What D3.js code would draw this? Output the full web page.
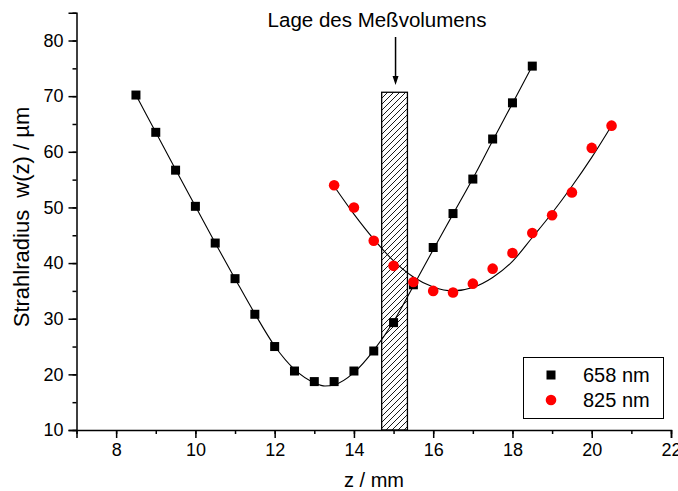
<!DOCTYPE html>
<html>
<head>
<meta charset="utf-8">
<script src="https://cdn.jsdelivr.net/npm/d3@7"></script>
<style>
  body { margin: 0; background: #fff; }
  text { font-family: "Liberation Sans", Arial, sans-serif; fill: #000; }
</style>
</head>
<body>
<div id="container"></div>
<script>
// measured points
const z658 = [8.5, 9, 9.5, 10, 10.5, 11, 11.5, 12, 12.5, 13, 13.5, 14, 14.5, 15, 15.5, 16, 16.5, 17, 17.5, 18, 18.5];
const w658 = [70.2, 63.5, 56.7, 50.2, 43.6, 37.2, 30.8, 25.0, 20.6, 18.7, 18.7, 20.6, 24.2, 29.3, 36.1, 42.8, 48.9, 55.1, 62.3, 68.8, 75.4];
const z825 = [13.5, 14, 14.5, 15, 15.5, 16, 16.5, 17, 17.5, 18, 18.5, 19, 19.5, 20, 20.5];
const w825 = [54.0, 50.0, 44.0, 39.5, 36.6, 35.0, 34.7, 36.3, 39.0, 41.8, 45.4, 48.6, 52.7, 60.7, 64.7];

// fit curves
const fitZ658 = [8.5, 9, 9.5, 10, 10.5, 11, 11.5, 12, 12.5, 13, 13.27, 13.5, 14, 14.5, 15, 15.5, 16, 16.5, 17, 17.5, 18, 18.5];
const fitW658 = [70.2, 63.5, 56.8, 50.2, 43.6, 37.2, 30.9, 25.1, 20.9, 18.5, 17.9, 18.1, 20.3, 24.3, 29.5, 35.9, 42.4, 48.8, 55.2, 62.0, 68.7, 75.4];
const fitZ825 = [13.5, 14, 14.5, 15, 15.5, 16, 16.5, 17, 17.5, 18, 18.5, 19, 19.5, 20, 20.5];
const fitW825 = [53.8, 48.8, 44.3, 40.4, 37.5, 35.7, 35.0, 35.6, 37.4, 40.3, 44.6, 49.0, 53.8, 59.0, 64.7];

// measuring volume
const volume = { z0: 14.7, z1: 15.35, top: 70.7 };
const legendLabels = ["658 nm", "825 nm"];

const width = 678, height = 491;
const margin = { left: 76.5, right: 7, top: 12.7, bottom: 61 };

const svg = d3.select("#container").append("svg")
  .attr("width", width).attr("height", height);

const x = d3.scaleLinear([7, 22], [margin.left, width - margin.right]);
const y = d3.scaleLinear([10, 85], [height - margin.bottom, margin.top]);

// hatch pattern
const defs = svg.append("defs");
defs.append("pattern")
  .attr("id", "hatch")
  .attr("patternUnits", "userSpaceOnUse")
  .attr("width", 6).attr("height", 6)
  .append("path")
  .attr("d", "M0,6 L6,0 M-1,1 L1,-1 M5,7 L7,5")
  .attr("stroke", "#000").attr("stroke-width", 0.9);

svg.append("rect")
  .attr("x", x(volume.z0)).attr("y", y(volume.top))
  .attr("width", x(volume.z1) - x(volume.z0))
  .attr("height", y(10) - y(volume.top))
  .attr("fill", "url(#hatch)")
  .attr("stroke", "#000").attr("stroke-width", 1.3);

// arrow + annotation
const ax = x(15.05);
svg.append("line")
  .attr("x1", ax).attr("x2", ax).attr("y1", 37).attr("y2", 78)
  .attr("stroke", "#000").attr("stroke-width", 1.5);
svg.append("path")
  .attr("d", `M${ax - 3},${76} L${ax + 3},${76} L${ax},${85} Z`)
  .attr("fill", "#000");
svg.append("text")
  .attr("x", 377).attr("y", 27)
  .attr("text-anchor", "middle")
  .attr("font-size", 20.5)
  .text("Lage des Meßvolumens");

// fit lines
const line = d3.line().x(d => x(d[0])).y(d => y(d[1])).curve(d3.curveMonotoneX);
svg.append("path")
  .attr("d", line(d3.zip(fitZ658, fitW658)))
  .attr("fill", "none").attr("stroke", "#000").attr("stroke-width", 1.1);
svg.append("path")
  .attr("d", line(d3.zip(fitZ825, fitW825)))
  .attr("fill", "none").attr("stroke", "#000").attr("stroke-width", 1.1);

// markers
const sq = 9;
svg.append("g").selectAll("rect")
  .data(d3.zip(z658, w658))
  .join("rect")
  .attr("x", d => x(d[0]) - sq / 2).attr("y", d => y(d[1]) - sq / 2)
  .attr("width", sq).attr("height", sq)
  .attr("fill", "#000");
svg.append("g").selectAll("circle")
  .data(d3.zip(z825, w825))
  .join("circle")
  .attr("cx", d => x(d[0])).attr("cy", d => y(d[1]))
  .attr("r", 5.3)
  .attr("fill", "#ff0000");

// axes
const xAxis = svg.append("g").attr("transform", `translate(0,${y(10)})`);
xAxis.append("g")
  .call(d3.axisBottom(x).tickValues(d3.range(7, 22.1, 1)).tickSize(4).tickFormat(""))
  .call(g => g.select(".domain").remove());
xAxis.append("g")
  .call(d3.axisBottom(x).tickValues(d3.range(8, 22.1, 2)).tickSize(8).tickPadding(5))
  .call(g => g.selectAll("text").attr("font-size", 18).attr("font-family", null));
xAxis.selectAll("line, path").attr("stroke", "#000").attr("stroke-width", 1.5);

const yAxis = svg.append("g").attr("transform", `translate(${x(7)},0)`);
yAxis.append("g")
  .call(d3.axisLeft(y).tickValues(d3.range(10, 85.1, 5)).tickSize(4).tickFormat(""))
  .call(g => g.select(".domain").remove());
yAxis.append("g")
  .call(d3.axisLeft(y).tickValues(d3.range(10, 80.1, 10)).tickSize(8).tickPadding(5))
  .call(g => g.selectAll("text").attr("font-size", 18).attr("font-family", null));
yAxis.selectAll("line, path").attr("stroke", "#000").attr("stroke-width", 1.5);

// axis titles
svg.append("text")
  .attr("x", 374).attr("y", 487)
  .attr("text-anchor", "middle").attr("font-size", 20)
  .text("z / mm");
svg.append("text")
  .attr("transform", `translate(29,217) rotate(-90)`)
  .attr("text-anchor", "middle").attr("font-size", 22)
  .attr("xml:space", "preserve")
  .text("Strahlradius  w(z) / µm");

// legend
const lg = svg.append("g");
lg.append("rect")
  .attr("x", 523.5).attr("y", 357.5).attr("width", 140).attr("height", 61)
  .attr("fill", "#fff").attr("stroke", "#000").attr("stroke-width", 1);
lg.append("rect")
  .attr("x", 551 - sq / 2).attr("y", 375 - sq / 2).attr("width", sq).attr("height", sq)
  .attr("fill", "#000");
lg.append("circle")
  .attr("cx", 551).attr("cy", 400).attr("r", 5.3).attr("fill", "#ff0000");
lg.selectAll("text.lab")
  .data(legendLabels)
  .join("text")
  .attr("class", "lab")
  .attr("x", 583).attr("y", (d, i) => 382 + i * 25)
  .attr("font-size", 20)
  .text(d => d);
</script>
</body>
</html>
